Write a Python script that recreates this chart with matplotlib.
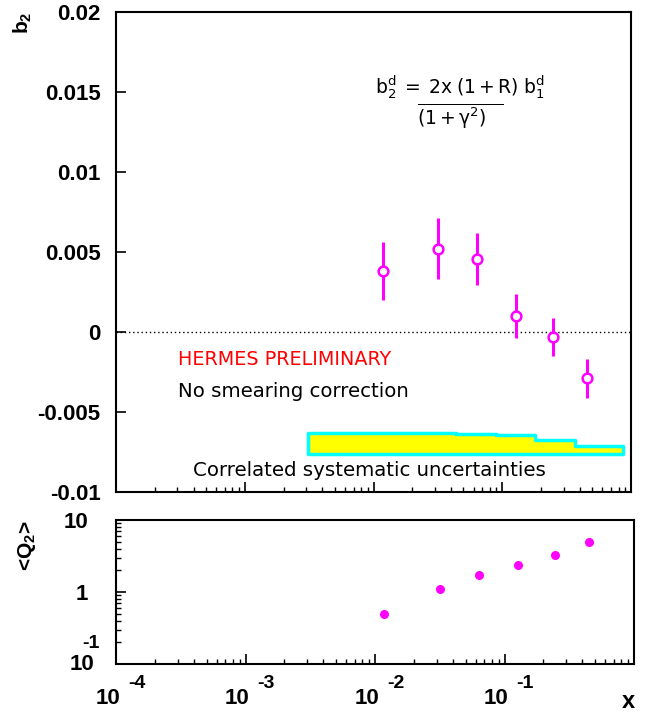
import matplotlib
matplotlib.use("Agg")
import matplotlib.pyplot as plt
from matplotlib.ticker import LogLocator, NullFormatter, FixedLocator

plt.rcParams['font.family'] = ['Liberation Sans', 'DejaVu Sans']
plt.rcParams['mathtext.fontset'] = 'custom'
plt.rcParams['mathtext.rm'] = 'Liberation Sans'
plt.rcParams['mathtext.it'] = 'Liberation Sans:italic'
plt.rcParams['mathtext.bf'] = 'Liberation Sans:bold'

# b2 measurement
x_vals = [0.0118, 0.0315, 0.0635, 0.127, 0.247, 0.452]
b2_vals = [0.0038, 0.0052, 0.00456, 0.0010, -0.0003, -0.0029]
b2_err = [0.0018, 0.0019, 0.0016, 0.00135, 0.0012, 0.0012]

# correlated systematic band (drawn above a baseline)
sys_edges = [0.0031, 0.0435, 0.089, 0.18, 0.367, 0.87]
sys_err = [0.00129, 0.00122, 0.00114, 0.00087, 0.00047]
sys_base = -0.0076

# mean Q2 per bin
q2_vals = [0.5, 1.1, 1.7, 2.4, 3.3, 4.9]

ytick_vals = [-0.01, -0.005, 0, 0.005, 0.01, 0.015, 0.02]
ytick_labels = ['-0.01', '-0.005', '0', '0.005', '0.01', '0.015', '0.02']
decades = [-4, -3, -2, -1]

magenta = '#ff00ff'

fig = plt.figure(figsize=(6.51, 7.15), dpi=100)
ax1 = fig.add_axes([116 / 651, 1 - 492 / 715, 515 / 651, 480 / 715])
ax2 = fig.add_axes([116 / 651, 1 - 664 / 715, 518 / 651, 144 / 715])

for ax in (ax1, ax2):
    for s in ax.spines.values():
        s.set_linewidth(1.5)
    ax.set_xscale('log')
    ax.set_xlim(1e-4, 1)
    ax.xaxis.set_major_locator(FixedLocator([10.0 ** e for e in decades]))
    ax.xaxis.set_minor_locator(LogLocator(base=10, subs=range(2, 10), numticks=20))
    ax.xaxis.set_major_formatter(NullFormatter())
    ax.xaxis.set_minor_formatter(NullFormatter())
    ax.tick_params(which='major', direction='in', length=7, width=1.2,
                   top=False, right=False)
    ax.tick_params(which='minor', direction='in', length=3.5, width=1.0,
                   top=False, right=False)

# ---- top panel ----
ax1.set_ylim(-0.01, 0.02)
ax1.set_yticks(ytick_vals)
ax1.set_yticklabels(ytick_labels, fontsize=16, fontweight='bold')
ax1.tick_params(axis='y', pad=11)
ax1.axhline(0, color='black', lw=1, ls=(0, (1, 2)))

# step band: repeat the last value so the final bin is closed
sys_top = [sys_base + e for e in sys_err]
ax1.fill_between(sys_edges, sys_base, sys_top + sys_top[-1:], step='post',
                 facecolor='#ffff00', edgecolor='#00ffff', linewidth=2.5)

ax1.errorbar(x_vals, b2_vals, yerr=b2_err, fmt='o', color=magenta,
             mfc='white', mec=magenta, ms=7, mew=1.8, elinewidth=2.2,
             capsize=0, zorder=5)

ax1.text(0.120, 0.2646, 'HERMES PRELIMINARY', transform=ax1.transAxes,
         color='red', fontsize=13.8, family='DejaVu Sans', va='baseline')
ax1.text(0.120, 0.1985, 'No smearing correction', transform=ax1.transAxes,
         color='black', fontsize=14.2, family='DejaVu Sans', va='baseline')
ax1.text(0.1495, 0.034, 'Correlated systematic uncertainties',
         transform=ax1.transAxes, color='black', fontsize=14.2,
         family='DejaVu Sans', va='baseline')

ax1.text(0.503, 0.831, r'$\mathregular{b_2^d\ =\ 2x\ (1+R)\ b_1^d}$',
         transform=ax1.transAxes, fontsize=13.5, family='DejaVu Sans',
         ha='left', va='baseline')
ax1.text(0.585, 0.783, r'$\overline{\mathregular{(1+\gamma^2)}\quad}$',
         transform=ax1.transAxes, fontsize=13.5, family='DejaVu Sans',
         ha='left', va='center')

fig.text(23 / 651, 1 - 12 / 715, r'$\mathbf{b_2}$', rotation=90,
         fontsize=15, ha='center', va='top')

# ---- bottom panel ----
ax2.plot(x_vals, q2_vals, 'o', color=magenta, ms=6.5, mec='none')
ax2.set_yscale('log')
ax2.set_ylim(0.1, 10)
ax2.yaxis.set_major_locator(FixedLocator([0.1, 1, 10]))
ax2.yaxis.set_minor_locator(LogLocator(base=10, subs=range(2, 10), numticks=20))
ax2.yaxis.set_minor_formatter(NullFormatter())
ax2.set_yticklabels(['', '1', '10'], fontsize=16, fontweight='bold')
ax2.tick_params(axis='y', pad=20)
ax2.annotate('10', xy=(0, 0.1), xycoords=('axes fraction', 'data'),
             xytext=(-22, 0), textcoords='offset pixels', ha='right',
             va='center', fontsize=16, fontweight='bold')
ax2.annotate('-1', xy=(0, 0.1), xycoords=('axes fraction', 'data'),
             xytext=(-16, 21), textcoords='offset pixels', ha='right',
             va='center', fontsize=14, fontweight='bold')

for e in decades:
    ax2.annotate('10', xy=(10.0 ** e, 0), xycoords=('data', 'axes fraction'),
                 xytext=(4, -34), textcoords='offset pixels', ha='right',
                 va='center', fontsize=16, fontweight='bold')
    ax2.annotate(str(e), xy=(10.0 ** e, 0), xycoords=('data', 'axes fraction'),
                 xytext=(12, -20), textcoords='offset pixels', ha='left',
                 va='center', fontsize=14, fontweight='bold')

fig.text(628 / 651, 1 - 702 / 715, 'x', fontsize=17, fontweight='bold',
         ha='center', va='center')
fig.text(27 / 651, 1 - 546 / 715, r'<Q$_\mathbf{2}$>', rotation=90,
         fontsize=15, fontweight='bold', ha='center', va='center')

fig.savefig('out.png', dpi=100)
